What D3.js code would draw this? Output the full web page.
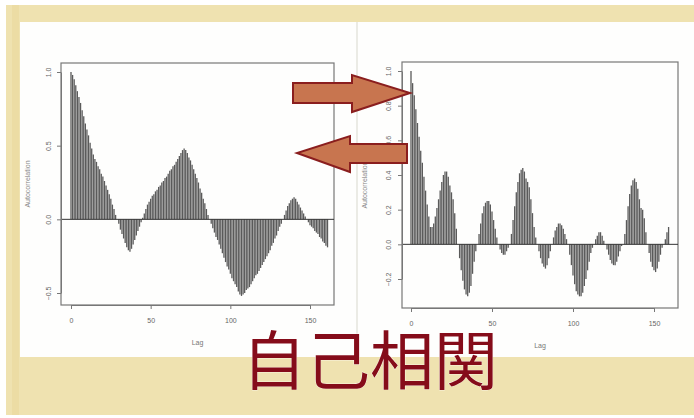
<!DOCTYPE html>
<html>
<head>
<meta charset="utf-8">
<script src="https://cdn.jsdelivr.net/npm/d3@7"></script>
<style>
  body { margin: 0; background: #fff; }
  svg { display: block; }
</style>
</head>
<body>
<script>
// ACF values, one per lag
const leftAcf = [1.00,0.98,0.95,0.91,0.87,0.83,0.79,0.74,0.70,0.65,0.61,0.57,0.52,0.48,0.44,0.41,0.39,0.36,0.34,0.31,
  0.29,0.26,0.23,0.20,0.17,0.14,0.10,0.07,0.03,0.00,-0.03,-0.07,-0.10,-0.13,-0.16,-0.19,-0.21,-0.22,-0.20,-0.17,
  -0.14,-0.11,-0.08,-0.05,-0.02,0.01,0.04,0.07,0.10,0.12,0.14,0.16,0.17,0.19,0.20,0.22,0.23,0.25,0.26,0.28,
  0.29,0.31,0.33,0.34,0.36,0.37,0.39,0.41,0.43,0.45,0.47,0.48,0.47,0.45,0.42,0.40,0.37,0.34,0.31,0.28,
  0.25,0.21,0.18,0.14,0.11,0.07,0.03,0.00,-0.03,-0.06,-0.09,-0.12,-0.14,-0.17,-0.20,-0.23,-0.26,-0.29,-0.32,-0.34,
  -0.37,-0.40,-0.42,-0.44,-0.46,-0.49,-0.51,-0.52,-0.51,-0.50,-0.48,-0.47,-0.46,-0.44,-0.42,-0.40,-0.38,-0.37,-0.35,-0.33,
  -0.31,-0.29,-0.27,-0.25,-0.23,-0.21,-0.18,-0.16,-0.13,-0.11,-0.08,-0.05,-0.03,0.00,0.03,0.06,0.09,0.11,0.13,0.14,
  0.15,0.14,0.12,0.10,0.08,0.06,0.04,0.02,0.00,-0.02,-0.04,-0.05,-0.06,-0.08,-0.09,-0.10,-0.12,-0.13,-0.15,-0.16,
  -0.18,-0.19];

const rightAcf = [1.00,0.93,0.86,0.78,0.70,0.62,0.54,0.47,0.39,0.31,0.23,0.16,0.10,0.10,0.12,0.16,0.21,0.26,0.31,0.36,
  0.40,0.42,0.42,0.39,0.34,0.30,0.26,0.18,0.09,0.00,-0.08,-0.15,-0.21,-0.26,-0.29,-0.30,-0.28,-0.24,-0.17,-0.10,
  -0.04,0.00,0.06,0.12,0.18,0.22,0.24,0.25,0.25,0.23,0.19,0.14,0.09,0.04,0.00,-0.03,-0.05,-0.06,-0.06,-0.04,
  -0.02,0.00,0.06,0.14,0.22,0.30,0.36,0.41,0.43,0.44,0.42,0.38,0.36,0.33,0.26,0.18,0.10,0.04,0.00,-0.04,
  -0.08,-0.11,-0.13,-0.14,-0.12,-0.08,-0.04,0.00,0.04,0.08,0.10,0.12,0.12,0.11,0.09,0.06,0.03,0.00,-0.06,-0.12,
  -0.18,-0.23,-0.27,-0.29,-0.30,-0.30,-0.28,-0.24,-0.20,-0.15,-0.10,-0.05,-0.02,0.00,0.03,0.05,0.07,0.07,0.05,0.02,
  0.00,-0.03,-0.06,-0.09,-0.11,-0.12,-0.12,-0.10,-0.07,-0.04,-0.01,0.00,0.06,0.14,0.22,0.29,0.34,0.37,0.38,0.36,
  0.32,0.26,0.21,0.20,0.15,0.07,0.00,-0.05,-0.10,-0.13,-0.15,-0.16,-0.14,-0.10,-0.06,-0.02,0.00,0.03,0.07,0.10];

const lagTicks = [0, 50, 100, 150];
const leftYTicks = [-0.5, 0.0, 0.5, 1.0];
const rightYTicks = [-0.2, 0.0, 0.2, 0.4, 0.6, 0.8, 1.0];
const title = "自己相関";

const svg = d3.select("body").append("svg")
    .attr("width", 694)
    .attr("height", 418);

// slide background
svg.append("rect").attr("x", 6).attr("y", 5).attr("width", 688).attr("height", 410).attr("fill", "#efe2b0");
svg.append("rect").attr("x", 12).attr("y", 5).attr("width", 7).attr("height", 410).attr("fill", "#ead99c").attr("opacity", 0.6);
svg.append("rect").attr("x", 20).attr("y", 22).attr("width", 674).attr("height", 335).attr("fill", "#fefefd");
svg.append("line").attr("x1", 357).attr("x2", 357).attr("y1", 22).attr("y2", 357)
    .attr("stroke", "#e4e4dc").attr("stroke-width", 1.5);

function acfPanel(values, yTicks, box, xRange, yDomain, yRange, labelX, ylabX) {
  const x = d3.scaleLinear().domain([0, 150]).range(xRange);
  const y = d3.scaleLinear().domain(yDomain).range(yRange);
  const g = svg.append("g");

  g.append("rect")
      .attr("x", box[0]).attr("y", box[1])
      .attr("width", box[2] - box[0]).attr("height", box[3] - box[1])
      .attr("fill", "none").attr("stroke", "#777").attr("stroke-width", 1.2);

  g.selectAll("line.bar")
      .data(values)
      .enter()
      .append("line")
      .attr("class", "bar")
      .attr("x1", (d, i) => x(i))
      .attr("x2", (d, i) => x(i))
      .attr("y1", y(0))
      .attr("y2", d => y(d))
      .attr("stroke", "#5a5a5a")
      .attr("stroke-width", 1.3);

  g.append("line")
      .attr("x1", box[0]).attr("x2", box[2])
      .attr("y1", y(0)).attr("y2", y(0))
      .attr("stroke", "#333").attr("stroke-width", 1);

  const yAxis = g.append("g")
      .attr("transform", `translate(${box[0]},0)`)
      .call(d3.axisLeft(y).tickValues(yTicks).tickSize(4).tickSizeOuter(0).tickFormat(d3.format(".1f")));
  // R style: labels turned to read upwards
  yAxis.selectAll("text")
      .attr("transform", "rotate(-90)")
      .attr("x", 0)
      .attr("y", -labelX)
      .attr("dy", "0.35em")
      .attr("text-anchor", "middle");

  const xAxis = g.append("g")
      .attr("transform", `translate(0,${box[3]})`)
      .call(d3.axisBottom(x).tickValues(lagTicks).tickSize(4).tickSizeOuter(0));
  xAxis.selectAll("text").attr("y", 13);

  [yAxis, xAxis].forEach(a => {
    a.selectAll("path, line").attr("stroke", "#777");
    a.selectAll("text").attr("fill", "#666")
      .style("font-family", "'Liberation Sans', Arial, sans-serif")
      .style("font-size", "7px");
  });

  g.append("text")
      .attr("x", (box[0] + box[2]) / 2)
      .attr("y", box[3] + 40)
      .attr("text-anchor", "middle")
      .attr("fill", "#777")
      .style("font-family", "'Liberation Sans', Arial, sans-serif")
      .style("font-size", "7px")
      .text("Lag");

  g.append("text")
      .attr("transform", `translate(${ylabX},${(box[1] + box[3]) / 2}) rotate(-90)`)
      .attr("text-anchor", "middle")
      .attr("dy", "0.35em")
      .attr("fill", "#888")
      .style("font-family", "'Liberation Sans', Arial, sans-serif")
      .style("font-size", "7px")
      .text("Autocorrelation");
}

acfPanel(leftAcf, leftYTicks, [61, 63, 334, 305], [71, 310], [-0.5, 1], [293, 72], 12, 28);
acfPanel(rightAcf, rightYTicks, [402, 62, 678, 308], [411, 654], [-0.2, 1], [279, 71], 13, 365);

// arrows between the panels
const arrows = [
  [[293, 83], [352, 83], [352, 75], [410, 93], [352, 112], [352, 103], [293, 103]],
  [[407, 144], [350, 144], [350, 136], [297, 153], [350, 172], [350, 163], [407, 163]]
];
svg.selectAll("polygon.arrow")
    .data(arrows)
    .enter()
    .append("polygon")
    .attr("class", "arrow")
    .attr("points", d => d.map(p => p.join(",")).join(" "))
    .attr("fill", "#c8754f")
    .attr("stroke", "#8a1e1e")
    .attr("stroke-width", 2)
    .attr("stroke-linejoin", "miter");

svg.append("text")
    .attr("x", 370)
    .attr("y", 356)
    .attr("text-anchor", "middle")
    .attr("dominant-baseline", "central")
    .attr("fill", "#850c1a")
    .attr("stroke", "#fff")
    .attr("stroke-width", 0.6)
    .attr("paint-order", "stroke")
    .style("font-family", "'Noto Sans CJK JP', sans-serif")
    .style("font-size", "64px")
    .text(title);
</script>
</body>
</html>
